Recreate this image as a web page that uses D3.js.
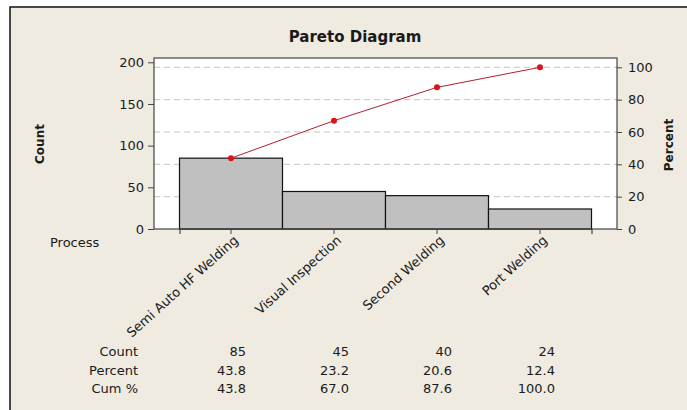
<!DOCTYPE html>
<html>
<head>
<meta charset="utf-8">
<script src="https://cdn.jsdelivr.net/npm/d3@7"></script>
<style>
  html, body { margin: 0; background: #efebe1; overflow: hidden; }
  svg { display: block; }
  text { font-family: "DejaVu Sans", Verdana, sans-serif; fill: #1a1a1a; }
</style>
</head>
<body>
<div id="chart"></div>
<script>
// data
const categories = ['Semi Auto HF Welding', 'Visual Inspection', 'Second Welding', 'Port Welding'];
const counts = [85, 45, 40, 24];
const percents = [43.8, 23.2, 20.6, 12.4];
const cumPercents = [43.8, 67.0, 87.6, 100.0];
const countTicks = [0, 50, 100, 150, 200];
const percentTicks = [0, 20, 40, 60, 80, 100];

const W = 687, H = 410;
const plot = { left: 154, right: 617, top: 58, bottom: 229 };
const total = d3.sum(counts);

const svg = d3.select('#chart').append('svg')
  .attr('width', W + 40)
  .attr('height', H);

// outer beige panel, only its top and left frame show in the shot
svg.append('rect')
  .attr('x', 0).attr('y', 0).attr('width', W + 40).attr('height', H)
  .attr('fill', '#fff');
svg.append('rect')
  .attr('x', 10).attr('y', 7).attr('width', W + 30).attr('height', H)
  .attr('fill', '#efebe1');
svg.append('path')
  .attr('d', `M10,${H} V7 H${W + 40}`)
  .attr('fill', 'none')
  .attr('stroke', '#111')
  .attr('stroke-width', 1.5);

// scales
const x = d3.scaleBand()
  .domain(categories)
  .range([plot.left + 25.5, plot.right - 25.5])
  .paddingInner(0);

const yCount = d3.scaleLinear()
  .domain([0, 200])
  .range([plot.bottom, 62.3]);

// percent axis: 100% lines up with the total count
const yPct = d3.scaleLinear()
  .domain([0, 100])
  .range([plot.bottom, yCount(total)]);

// plot background
svg.append('rect')
  .attr('x', plot.left).attr('y', plot.top)
  .attr('width', plot.right - plot.left).attr('height', plot.bottom - plot.top)
  .attr('fill', '#fff');

// dashed gridlines at percent ticks
svg.append('g')
  .selectAll('line')
  .data(percentTicks.filter(d => d > 0))
  .enter()
  .append('line')
  .attr('x1', plot.left).attr('x2', plot.right)
  .attr('y1', d => yPct(d)).attr('y2', d => yPct(d))
  .attr('stroke', '#c4c4c4')
  .attr('stroke-width', 1)
  .attr('stroke-dasharray', '6,4');

// bars
svg.append('g')
  .selectAll('rect')
  .data(categories)
  .enter()
  .append('rect')
  .attr('x', d => x(d))
  .attr('y', (d, i) => yCount(counts[i]))
  .attr('width', x.bandwidth())
  .attr('height', (d, i) => plot.bottom - yCount(counts[i]))
  .attr('fill', '#c0c0c0')
  .attr('stroke', '#111')
  .attr('stroke-width', 1.2);

// cumulative line
const line = d3.line()
  .x((d, i) => x(categories[i]) + x.bandwidth() / 2)
  .y(d => yPct(d));

svg.append('path')
  .datum(cumPercents)
  .attr('d', line)
  .attr('fill', 'none')
  .attr('stroke', '#b3202a')
  .attr('stroke-width', 1);

svg.append('g')
  .selectAll('circle')
  .data(cumPercents)
  .enter()
  .append('circle')
  .attr('cx', (d, i) => x(categories[i]) + x.bandwidth() / 2)
  .attr('cy', d => yPct(d))
  .attr('r', 3)
  .attr('fill', '#e0101a');

// plot frame
svg.append('rect')
  .attr('x', plot.left).attr('y', plot.top)
  .attr('width', plot.right - plot.left).attr('height', plot.bottom - plot.top)
  .attr('fill', 'none')
  .attr('stroke', '#444')
  .attr('stroke-width', 1.2);

// left axis
const leftAxis = svg.append('g')
  .attr('transform', `translate(${plot.left},0)`)
  .call(d3.axisLeft(yCount).tickValues(countTicks).tickSize(6).tickPadding(4));
leftAxis.select('.domain').remove();
leftAxis.selectAll('line').attr('stroke', '#444');
leftAxis.selectAll('text').style('font-size', '13px').attr('fill', '#1a1a1a');

// right axis
const rightAxis = svg.append('g')
  .attr('transform', `translate(${plot.right},0)`)
  .call(d3.axisRight(yPct).tickValues(percentTicks).tickSize(5).tickPadding(6));
rightAxis.select('.domain').remove();
rightAxis.selectAll('line').attr('stroke', '#444');
rightAxis.selectAll('text').style('font-size', '13px').attr('fill', '#1a1a1a');

// bottom axis ticks and rotated category labels
const bottomAxis = svg.append('g')
  .attr('transform', `translate(0,${plot.bottom})`)
  .call(d3.axisBottom(x).tickSize(5).tickPadding(3));
bottomAxis.select('.domain').attr('stroke', '#444').attr('stroke-width', 1.2);
bottomAxis.selectAll('line').attr('stroke', '#444');
bottomAxis.selectAll('text')
  .style('font-size', '13px')
  .attr('fill', '#1a1a1a')
  .attr('text-anchor', 'end')
  .attr('dy', '0.35em')
  .attr('transform', 'translate(5,9) rotate(-42)')
  .attr('x', 0).attr('y', 0);

// titles
svg.append('text')
  .attr('x', 355).attr('y', 42)
  .attr('text-anchor', 'middle')
  .style('font-size', '15px')
  .style('font-weight', 'bold')
  .text('Pareto Diagram');

svg.append('text')
  .attr('transform', 'translate(44,144) rotate(-90)')
  .attr('text-anchor', 'middle')
  .style('font-size', '12px')
  .style('font-weight', 'bold')
  .text('Count');

svg.append('text')
  .attr('transform', 'translate(673,145) rotate(-90)')
  .attr('text-anchor', 'middle')
  .style('font-size', '12px')
  .style('font-weight', 'bold')
  .text('Percent');

svg.append('text')
  .attr('x', 50).attr('y', 247)
  .style('font-size', '13px')
  .text('Process');

// table under the chart
const rows = [
  { label: 'Count', values: counts.map(d => String(d)), y: 356 },
  { label: 'Percent', values: percents.map(d => d.toFixed(1)), y: 375 },
  { label: 'Cum %', values: cumPercents.map(d => d.toFixed(1)), y: 393 },
];

const table = svg.append('g');
rows.forEach(r => {
  table.append('text')
    .attr('x', 138).attr('y', r.y)
    .attr('text-anchor', 'end')
    .style('font-size', '13px')
    .text(r.label);
  table.selectAll(null)
    .data(r.values)
    .enter()
    .append('text')
    .attr('x', (d, i) => x(categories[i]) + x.bandwidth() / 2 + 15)
    .attr('y', r.y)
    .attr('text-anchor', 'end')
    .style('font-size', '13px')
    .text(d => d);
});
</script>
</body>
</html>
